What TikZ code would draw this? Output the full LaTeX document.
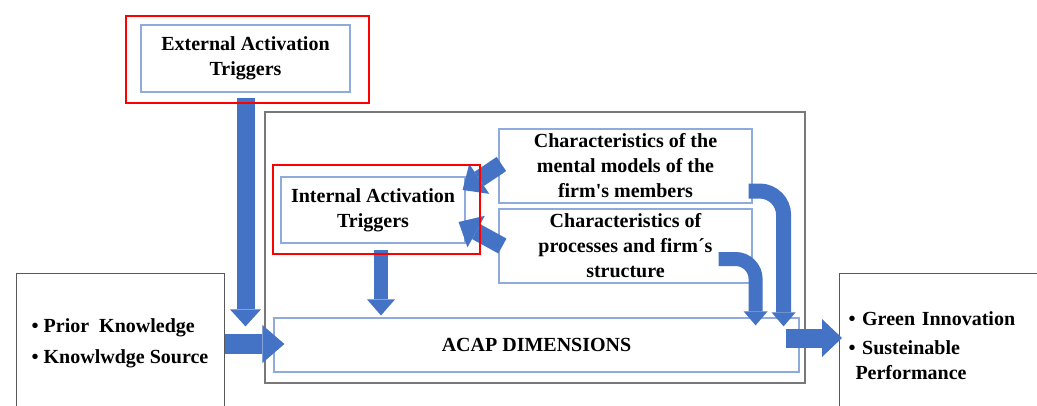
\documentclass[tikz,border=0pt]{standalone}
\usepackage{fontspec}
\setmainfont{Liberation Serif}
\usetikzlibrary{arrows.meta,calc,positioning}

\definecolor{arblue}{RGB}{68,114,196}
\definecolor{lnblue}{RGB}{143,170,220}
\definecolor{frgray}{RGB}{120,120,120}

\begin{document}
\begin{tikzpicture}[%
      x=1pt, y=-1pt,               % pixel grid, y running down
      font=\fontsize{20}{25}\selectfont\bfseries,
      line cap=butt
      ]
  \tikzset{
    rect/.style={draw=lnblue, line width=1.2pt, align=center, inner sep=0pt},
    hot/.style={draw=red, line width=2pt, inner sep=0pt},
    frame/.style={draw=frgray, line width=1.5pt, inner sep=0pt},
    side/.style={draw=black!65, line width=1pt},
    fat/.style n args={3}{draw=arblue, line width=#1,
      -{Triangle[length=#2, width=#3, line width=0pt]}}}
  \useasboundingbox (0,0) rectangle (1037,405);
  \clip (0,0) rectangle (1037,405);

 \node [frame, minimum width=540pt, minimum height=271pt] (main) at (535,247.5) {};

 \node [rect, minimum width=209pt, minimum height=67pt] (ext) at (245.5,58.5)
 {External Activation\\Triggers};
 \node [rect, minimum width=184pt, minimum height=66pt] (int) at (373,210)
 {Internal Activation\\Triggers};
 \node [rect, minimum width=253pt, minimum height=74pt] (mental) at (625.5,166)
 {Characteristics of the\\mental models of the\\firm\textquotesingle s members};
 \node [rect, minimum width=253pt, minimum height=74pt] (process) at (625.5,246)
 {Characteristics of\\processes and firm´s\\structure};
 \node [rect, minimum width=525pt, minimum height=54pt] (acap) at (536.5,345)
 {ACAP DIMENSIONS};

 \node [side, align=left, minimum width=208pt, minimum height=141pt] (prior)
 at (120,343.5) {\textbullet\ Prior\ \ Knowledge\\[6pt]\textbullet\ Knowlwdge Source};
 \node [side, align=left, anchor=north west, text width=202pt, inner xsep=9pt,
 minimum height=145pt] (green) at (839,273)
 {\textbullet\ Green Innovation\\[4pt]\textbullet\ Susteinable\\\hspace*{7pt}Performance};

 % feeding arrows
 \draw [fat={18pt}{17pt}{31pt}] ([yshift=-5pt]ext.south) --
 ([yshift=-9pt]ext.south |- acap.north);
 \draw [fat={20pt}{22pt}{38pt}] ([yshift=-0.5pt]prior.east) --
 ([xshift=11pt,yshift=-0.5pt]prior.east -| acap.west);
 \draw [fat={14pt}{16pt}{28pt}] ([xshift=8pt,yshift=-6pt]int.south) --
 ([xshift=8pt,yshift=2pt]int.south |- acap.north);
 \draw [fat={17pt}{20pt}{36pt}] ([xshift=3pt,yshift=2pt]mental.west) --
 ([xshift=-3pt,yshift=20pt]int.east);
 \draw [fat={17pt}{20pt}{36pt}] ([xshift=4pt]process.west) --
 ([xshift=-7pt,yshift=-12pt]int.east);
 \draw [fat={15pt}{14pt}{24pt}, rounded corners=24pt]
 ([xshift=-4pt,yshift=-25pt]mental.east) -| ([xshift=-16pt,yshift=-9pt]acap.north east);
 \draw [fat={14pt}{14pt}{24pt}, rounded corners=20pt]
 ([xshift=-34pt,yshift=-13pt]process.east) -| ([xshift=-44pt,yshift=-8pt]acap.north east);
 \draw [fat={19pt}{20pt}{38pt}] ([xshift=-14pt,yshift=7pt]acap.east) --
 ([xshift=3pt,yshift=7pt]acap.east -| green.west);

 % red highlight frames
 \node [hot, minimum width=243pt, minimum height=87pt] (extred) at (247.5,59.5) {};
 \node [hot, minimum width=207pt, minimum height=89pt] (intred) at (376.5,209.5) {};
\end{tikzpicture}
\end{document}
